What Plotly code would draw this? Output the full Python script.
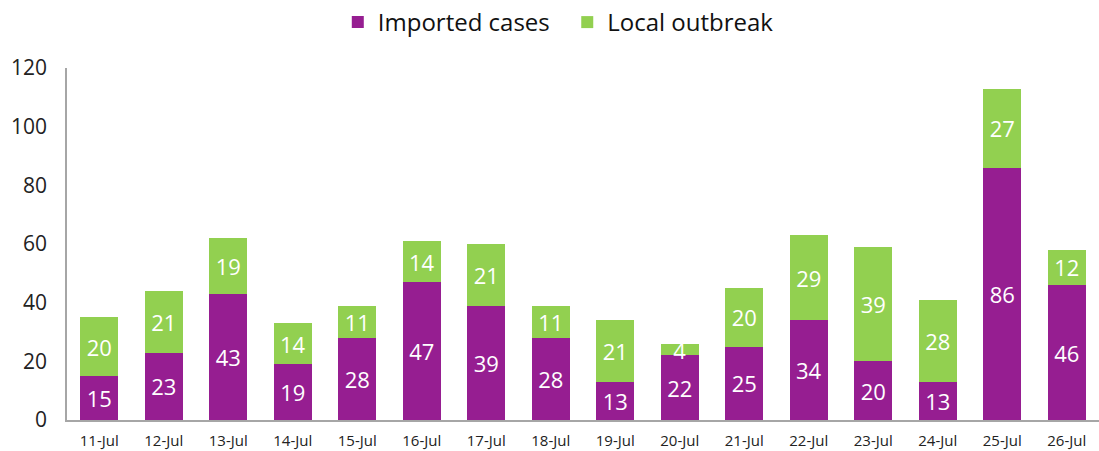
import plotly.graph_objects as go

dates = ["11-Jul", "12-Jul", "13-Jul", "14-Jul", "15-Jul", "16-Jul", "17-Jul", "18-Jul",
         "19-Jul", "20-Jul", "21-Jul", "22-Jul", "23-Jul", "24-Jul", "25-Jul", "26-Jul"]
imported = [15, 23, 43, 19, 28, 47, 39, 28, 13, 22, 25, 34, 20, 13, 86, 46]
local = [20, 21, 19, 14, 11, 14, 21, 11, 21, 4, 20, 29, 39, 28, 27, 12]

FONT = "Open Sans"
fig = go.Figure()
fig.add_trace(go.Bar(x=dates, y=imported, name="Imported cases\u00a0\u00a0", marker_color="#961E91",
                     text=imported, textposition="inside", insidetextanchor="middle", textangle=0,
                     textfont=dict(color="white", size=22, family=FONT), marker_line_width=0))
fig.add_trace(go.Bar(x=dates, y=local, name="Local outbreak", marker_color="#92D050",
                     text=local, textposition="inside", insidetextanchor="middle", textangle=0,
                     textfont=dict(color="white", size=22, family=FONT), marker_line_width=0))

fig.update_layout(
    barmode="stack", bargap=0.41,
    width=1099, height=451,
    margin=dict(l=67, r=0, t=68, b=31, autoexpand=False),
    paper_bgcolor="white", plot_bgcolor="white",
    font=dict(family=FONT, color="#222222"),
    uniformtext=dict(mode="show", minsize=22),
    legend=dict(orientation="h", xref="container", x=0.508, xanchor="center",
                yref="container", y=1.0, yanchor="top",
                font=dict(size=24, color="#111111"), traceorder="normal",
                itemwidth=30),
    showlegend=True,
)
fig.update_yaxes(range=[0, 120], dtick=20, showgrid=False, zeroline=False, automargin=False,
                 showline=True, linecolor="#A6A6A6", linewidth=1.5,
                 ticks="", tickfont=dict(size=21, color="#222222"), ticklabelstandoff=14)
fig.update_xaxes(showgrid=False, showline=True, linecolor="#A6A6A6", linewidth=1.5, automargin=False,
                 ticks="", tickfont=dict(size=15, color="#222222"), tickangle=0, ticklabelstandoff=6)

fig.write_html("out.html", config={"displayModeBar": False},
               post_script="document.body.style.margin='0';document.body.style.overflow='hidden';")
